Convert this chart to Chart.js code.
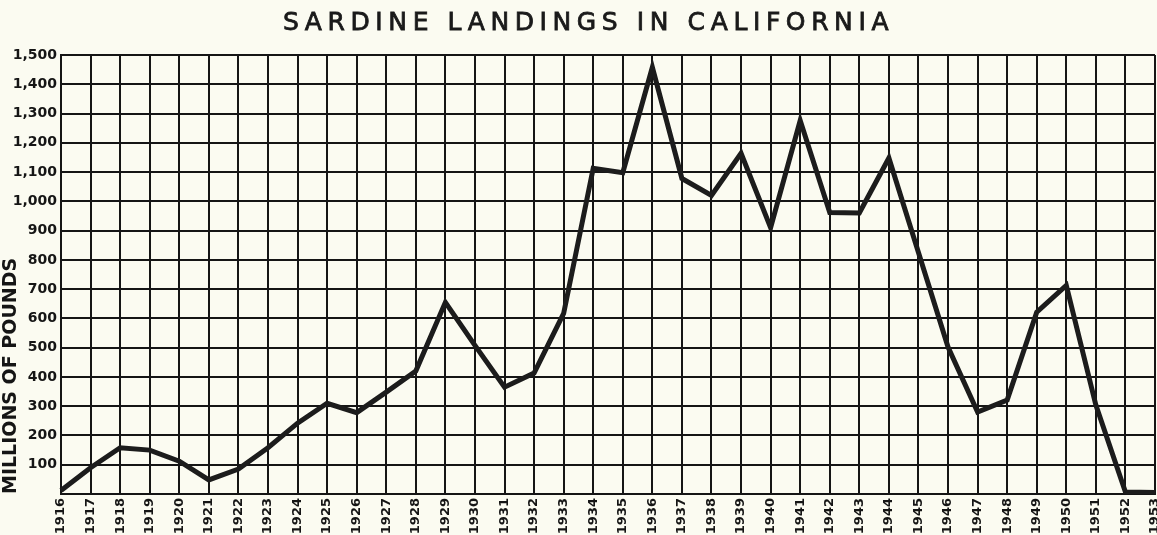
<!DOCTYPE html>
<html>
<head>
<meta charset="utf-8">
<script src="https://cdn.jsdelivr.net/npm/chart.js@4/dist/chart.umd.min.js"></script>
<style>
  html, body { margin: 0; padding: 0; background: #fbfbf1; }
  #wrap { position: relative; width: 1157px; height: 535px; }
  #title { position: absolute; left: 10px; top: 7px; width: 1157px; text-align: center;
           font-family: "DejaVu Sans", sans-serif; font-size: 25px; letter-spacing: 5.6px;
           color: #1a1a1a; font-weight: normal; -webkit-text-stroke: 0.8px #1a1a1a; }
  canvas { position: absolute; left: 0; top: 0; }
</style>
</head>
<body>
<div id="wrap">
  <canvas id="c" width="1157" height="535"></canvas>
  <div id="title">SARDINE LANDINGS IN CALIFORNIA</div>
</div>
<script>
const years = ['1916','1917','1918','1919','1920','1921','1922','1923','1924','1925','1926','1927','1928','1929','1930','1931','1932','1933','1934','1935','1936','1937','1938','1939','1940','1941','1942','1943','1944','1945','1946','1947','1948','1949','1950','1951','1952','1953'];
const landings = [12, 90, 158, 150, 112, 48, 85, 158, 242, 310, 278, 348, 420, 655, 508, 365, 413, 617, 1113, 1098, 1458, 1078, 1020, 1164, 910, 1276, 962, 960, 1148, 825, 502, 280, 321, 621, 713, 304, 7, 5];
const yTickValues = [100,200,300,400,500,600,700,800,900,1000,1100,1200,1300,1400,1500];
const yTickLabels = ['100','200','300','400','500','600','700','800','900','1,000','1,100','1,200','1,300','1,400','1,500'];

new Chart(document.getElementById('c'), {
  type: 'line',
  data: {
    labels: years,
    datasets: [{
      data: landings,
      borderColor: '#1c1c1c',
      borderWidth: 5,
      pointRadius: 0,
      tension: 0,
      fill: false,
      borderJoinStyle: 'miter'
    }]
  },
  options: {
    responsive: false,
    animation: false,
    layout: { padding: { top: 55, right: 2, left: 0, bottom: 0 } },
    plugins: { legend: { display: false }, tooltip: { enabled: false } },
    scales: {
      x: {
        offset: false,
        grid: { color: '#151515', lineWidth: 2, drawTicks: false },
        border: { color: '#151515', width: 2 },
        ticks: {
          color: '#151515', autoSkip: false, maxRotation: 90, minRotation: 90, padding: 4,
          font: { family: 'DejaVu Sans', size: 13, weight: 'bold' }
        },
        afterFit: (s) => { s.height = 41; s.paddingLeft = 0; s.paddingRight = 0; }
      },
      y: {
        min: 0, max: 1500,
        afterBuildTicks: (s) => { s.ticks = yTickValues.map(v => ({ value: v })); },
        grid: { color: '#151515', lineWidth: 2, drawTicks: false },
        border: { color: '#151515', width: 2 },
        ticks: {
          color: '#151515', padding: 4,
          font: { family: 'DejaVu Sans', size: 14, weight: 'bold' },
          callback: (v) => { const i = yTickValues.indexOf(v); return i >= 0 ? yTickLabels[i] : ''; }
        },
        title: {
          display: true, text: 'MILLIONS OF POUNDS', align: 'start', color: '#151515',
          font: { family: 'DejaVu Sans', size: 19, weight: 'bold' }, padding: { top: 0, bottom: 0 }
        },
        afterFit: (s) => { s.width = 61; s.paddingTop = 0; s.paddingBottom = 0; }
      }
    }
  }
});
</script>
</body>
</html>
